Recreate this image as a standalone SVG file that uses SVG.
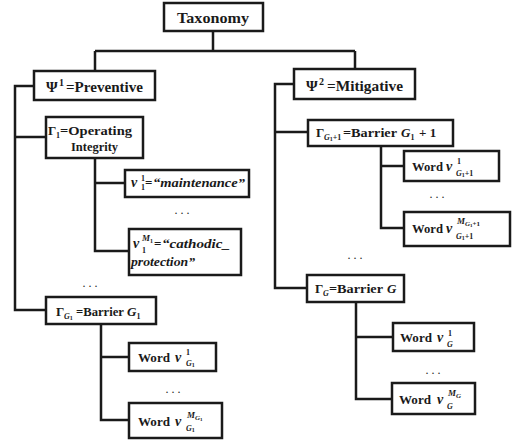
<svg xmlns="http://www.w3.org/2000/svg" width="513" height="442" viewBox="0 0 513 442" font-family="'Liberation Serif', 'Times New Roman', 'DejaVu Serif', serif" font-size="13" font-weight="bold">
<style>
.box{fill:#fff;stroke:#1a1a1a;stroke-width:2.5}
.ln{fill:none;stroke:#1a1a1a;stroke-width:2.5}
text{fill:#1a1a1a}
.it{font-style:italic}
.dots{font-weight:normal}
</style>
<rect width="513" height="442" fill="#fff"/>
<g id="connectors">
<path class="ln" d="M213,31V51M95,51H355M95,51V71M355,51V69"/>
<path class="ln" d="M34,86H15V310H46M15,137H46"/>
<path class="ln" d="M95,158V251H129M95,183H125"/>
<path class="ln" d="M101,324V420H129M101,357H129"/>
<path class="ln" d="M294,84H275V288H307M275,132H308"/>
<path class="ln" d="M381,146V228H404M381,166H404"/>
<path class="ln" d="M356,302V399H392M356,337H393"/>
</g>
<g id="taxonomy"><rect class="box" x="164" y="3" width="99" height="28"/><text x="177" y="23" font-size="15" textLength="72" lengthAdjust="spacingAndGlyphs">Taxonomy</text></g>
<g id="psi1"><rect class="box" x="34" y="71" width="121" height="29"/><text x="46" y="92" font-size="15">Ψ<tspan x="59" y="86" font-size="10">1</tspan><tspan x="66" y="92" font-size="14" textLength="77" lengthAdjust="spacingAndGlyphs">=Preventive</tspan></text></g>
<g id="gamma1"><rect class="box" x="46" y="117" width="97" height="41"/><text x="48" y="135">Γ<tspan x="56" y="138" font-size="8">1</tspan><tspan x="60" y="135" textLength="72" lengthAdjust="spacingAndGlyphs">=Operating</tspan></text><text x="71" y="151" textLength="47" lengthAdjust="spacingAndGlyphs">Integrity</text></g>
<g id="v11"><rect class="box" x="125" y="170" width="124" height="27"/><text x="131" y="187"><tspan class="it" font-size="14">v</tspan><tspan x="141" y="181" font-size="8">1</tspan><tspan x="141" y="190" font-size="8">1</tspan><tspan x="145" y="187">=</tspan><tspan x="153" y="187" class="it" textLength="92" lengthAdjust="spacingAndGlyphs">“maintenance”</tspan></text></g>
<text class="dots" x="182" y="214" text-anchor="middle" font-size="12">. . .</text>
<g id="v1M1"><rect class="box" x="129" y="229" width="112" height="46"/><text x="133" y="248"><tspan class="it" font-size="14">v</tspan><tspan x="142" y="241" class="it" font-size="9">M</tspan><tspan font-size="6" dy="2">1</tspan><tspan x="142" y="253" font-size="8">1</tspan><tspan x="154" y="248">=</tspan><tspan x="162" y="248" class="it" textLength="68" lengthAdjust="spacingAndGlyphs">“cathodic_</tspan></text><text x="131" y="266" class="it" textLength="64" lengthAdjust="spacingAndGlyphs">protection”</text></g>
<text class="dots" x="90" y="287" text-anchor="middle" font-size="12">. . .</text>
<g id="gammaG1"><rect class="box" x="46" y="297" width="110" height="27"/><text x="56" y="316">Γ<tspan x="64" y="319" class="it" font-size="8">G</tspan><tspan font-size="6" dy="1">1</tspan><tspan x="76" y="316" textLength="48" lengthAdjust="spacingAndGlyphs">=Barrier</tspan><tspan x="127" y="316" class="it">G</tspan><tspan font-size="8" dy="3">1</tspan></text></g>
<g id="wG1_1"><rect class="box" x="129" y="343" width="87" height="28"/><text x="138" y="362"><tspan textLength="32" lengthAdjust="spacingAndGlyphs">Word</tspan><tspan x="175" class="it" font-size="14">v</tspan><tspan x="186" y="355" font-size="8">1</tspan><tspan x="186" y="366" class="it" font-size="8">G</tspan><tspan font-size="6" dy="1">1</tspan></text></g>
<text class="dots" x="173" y="393" text-anchor="middle" font-size="12">. . .</text>
<g id="wG1_M"><rect class="box" x="129" y="403" width="93" height="35"/><text x="138" y="426"><tspan textLength="32" lengthAdjust="spacingAndGlyphs">Word</tspan><tspan x="175" class="it" font-size="14">v</tspan><tspan x="187" y="418" class="it" font-size="9">M</tspan><tspan class="it" font-size="7" dy="2">G</tspan><tspan font-size="5" dy="1">1</tspan><tspan x="186" y="431" class="it" font-size="8">G</tspan><tspan font-size="6" dy="1">1</tspan></text></g>
<g id="psi2"><rect class="box" x="294" y="69" width="121" height="30"/><text x="306" y="91" font-size="15">Ψ<tspan x="319" y="85" font-size="10">2</tspan><tspan x="327" y="91" font-size="14" textLength="76" lengthAdjust="spacingAndGlyphs">=Mitigative</tspan></text></g>
<g id="gammaG1p1"><rect class="box" x="308" y="120" width="145" height="26"/><text x="316" y="137">Γ<tspan x="324" y="140" class="it" font-size="8">G</tspan><tspan font-size="6" dy="1">1</tspan><tspan font-size="8" dy="-1">+1</tspan><tspan x="343" y="137" textLength="54" lengthAdjust="spacingAndGlyphs">=Barrier</tspan><tspan x="401" y="137" class="it">G</tspan><tspan font-size="8" dy="3">1</tspan><tspan x="419" y="137">+ 1</tspan></text></g>
<g id="wG1p1_1"><rect class="box" x="404" y="151" width="95" height="30"/><text x="412" y="171"><tspan textLength="31" lengthAdjust="spacingAndGlyphs">Word</tspan><tspan x="446" class="it" font-size="14">v</tspan><tspan x="457" y="164" font-size="8">1</tspan><tspan x="456" y="176" class="it" font-size="8">G</tspan><tspan font-size="6" dy="1">1</tspan><tspan font-size="8" dy="-1">+1</tspan></text></g>
<text class="dots" x="437" y="198" text-anchor="middle" font-size="12">. . .</text>
<g id="wG1p1_M"><rect class="box" x="404" y="212" width="106" height="34"/><text x="412" y="233"><tspan textLength="31" lengthAdjust="spacingAndGlyphs">Word</tspan><tspan x="446" class="it" font-size="14">v</tspan><tspan x="457" y="224" class="it" font-size="9">M</tspan><tspan class="it" font-size="7" dy="2">G</tspan><tspan font-size="5" dy="1">1</tspan><tspan font-size="7" dy="-1">+1</tspan><tspan x="456" y="239" class="it" font-size="8">G</tspan><tspan font-size="6" dy="1">1</tspan><tspan font-size="8" dy="-1">+1</tspan></text></g>
<text class="dots" x="355" y="259" text-anchor="middle" font-size="12">. . .</text>
<g id="gammaG"><rect class="box" x="307" y="275" width="97" height="27"/><text x="315" y="293">Γ<tspan x="323" y="296" class="it" font-size="8">G</tspan><tspan x="329" y="293" textLength="54" lengthAdjust="spacingAndGlyphs">=Barrier</tspan><tspan x="387" y="293" class="it">G</tspan></text></g>
<g id="wG_1"><rect class="box" x="393" y="323" width="81" height="28"/><text x="400" y="342"><tspan textLength="32" lengthAdjust="spacingAndGlyphs">Word</tspan><tspan x="437" class="it" font-size="14">v</tspan><tspan x="448" y="336" font-size="8">1</tspan><tspan x="447" y="347" class="it" font-size="8">G</tspan></text></g>
<text class="dots" x="433" y="374" text-anchor="middle" font-size="12">. . .</text>
<g id="wG_M"><rect class="box" x="392" y="383" width="83" height="31"/><text x="399" y="404"><tspan textLength="32" lengthAdjust="spacingAndGlyphs">Word</tspan><tspan x="437" class="it" font-size="14">v</tspan><tspan x="448" y="396" class="it" font-size="9">M</tspan><tspan class="it" font-size="7" dy="2">G</tspan><tspan x="447" y="409" class="it" font-size="8">G</tspan></text></g>
</svg>
